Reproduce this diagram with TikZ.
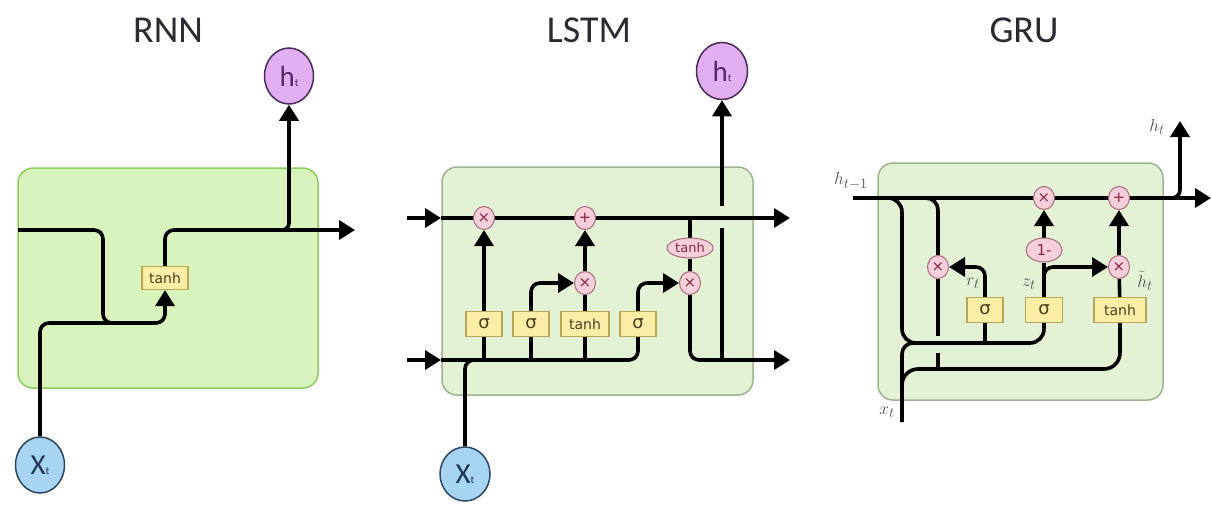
\documentclass[tikz,border=0pt]{standalone}
\usepackage{fontspec}
\setmainfont{Carlito}
\newfontfamily\dvs{DejaVu Sans}
\usetikzlibrary{arrows.meta,shapes.geometric}
\pgfdeclarelayer{bg}
\pgfdeclarelayer{wires}
\pgfsetlayers{bg,wires,main}
\definecolor{rnnfill}{HTML}{D8F4BC}
\definecolor{rnnedge}{HTML}{8CCB5E}
\definecolor{cellfill}{HTML}{E3F1D4}
\definecolor{celledge}{HTML}{9DB38F}
\definecolor{opfill}{HTML}{F6CFDA}
\definecolor{opedge}{HTML}{A86A7A}
\definecolor{optext}{HTML}{8A2545}
\definecolor{boxfill}{HTML}{FAEDA5}
\definecolor{boxedge}{HTML}{B9A657}
\definecolor{boxtext}{HTML}{4A4020}
\definecolor{xfill}{HTML}{A8D4F4}
\definecolor{xedge}{HTML}{2C4860}
\definecolor{xtext}{HTML}{1E3650}
\definecolor{hfill}{HTML}{E2AEF2}
\definecolor{hedge}{HTML}{4A2A58}
\definecolor{htext}{HTML}{5A2868}
\definecolor{titlecol}{HTML}{2A2A33}
\definecolor{labcol}{HTML}{505050}
\tikzset{
  wire/.style={line width=3.6pt, black, rounded corners=9pt},
  arr/.style={wire, -{Triangle[length=16pt,width=19pt]}},
  cell/.style={rounded corners=15pt, line width=1.5pt, fill=cellfill, draw=celledge},
  op/.style={ellipse, fill=opfill, draw=opedge, line width=1pt, minimum width=21pt,
    minimum height=23pt, inner sep=0pt, text=optext, font=\dvs\fontsize{15}{15}\selectfont},
  gatebox/.style={rectangle, fill=boxfill, draw=boxedge, line width=1.2pt,
    minimum height=25pt, inner sep=0pt, text=boxtext},
  sig/.style={gatebox, minimum width=36pt, font=\dvs\fontsize{18}{18}\selectfont},
  tanhbox/.style={gatebox, minimum width=48pt, font=\dvs\fontsize{14}{14}\selectfont},
  xnode/.style={ellipse, fill=xfill, draw=xedge, line width=1.5pt, minimum width=49pt,
    minimum height=56pt, inner sep=0pt, text=xtext},
  hnode/.style={ellipse, fill=hfill, draw=hedge, line width=1.5pt, minimum width=49pt,
    minimum height=56pt, inner sep=0pt, text=htext},
  title/.style={font=\fontsize{38}{40}\selectfont, text=titlecol, inner sep=0pt},
  lab/.style={text=labcol, font=\fontsize{19}{19}\selectfont, inner sep=0pt}
}
\newcommand{\bigsub}[2]{{\fontsize{29}{29}\selectfont #1}{\fontsize{11}{11}\selectfont #2}}
\begin{document}
\begin{tikzpicture}[x=1pt,y=-1pt]
\useasboundingbox (0,0) rectangle (1211,504);

% ================= RNN =================
\node[title] (tRNN) at (168,30) {RNN};
\node[tanhbox, minimum width=46pt, minimum height=23pt] (rT) at (165,278) {tanh};
\node[hnode] (rH) at (289,76) {\bigsub{h}{t}};
\node[xnode] (rX) at (40,465) {\bigsub{X}{t}};
\coordinate (rIn) at (18,230);
\coordinate (rJ) at (103,323);
\coordinate (rOut) at (355,230);
\coordinate (rB) at (268,230);

% ================= LSTM =================
\node[title] (tLSTM) at (589,30) {LSTM};
\node[op] (m1) at (484,218) {×};
\node[op] (a1) at (585,218) {+};
\node[op] (m2) at (585,283) {×};
\node[op] (m3) at (690,283) {×};
\node[op, minimum width=46pt, minimum height=20pt, font=\dvs\fontsize{13}{13}\selectfont] (th) at (690,248) {tanh};
\node[sig] (s1) at (484,324) {σ};
\node[sig] (s2) at (531,324) {σ};
\node[tanhbox] (tb) at (585,324) {tanh};
\node[sig] (s4) at (638,324) {σ};
\node[hnode, minimum width=51pt, minimum height=57pt] (lH) at (722,71) {\bigsub{h}{t}};
\node[xnode, minimum width=50pt, minimum height=54pt] (lX) at (465,474) {\bigsub{X}{t}};
\coordinate (cIn) at (407,218);
\coordinate (cA) at (441,218);
\coordinate (cOut) at (790,218);
\coordinate (hIn) at (407,360);
\coordinate (hA) at (441,360);
\coordinate (hOut) at (790,360);
\coordinate (lJ) at (495,360);
\coordinate (jT) at (690,218);
\coordinate (jB) at (722,360);
\coordinate (jG1) at (722,228);
\coordinate (jG2) at (722,206);

% ================= GRU =================
\node[title] (tGRU) at (1024,30) {GRU};
\node[op] (gm1) at (1044,198) {×};
\node[op] (ga) at (1119,198) {+};
\node[op] (gmr) at (938,267) {×};
\node[op] (gmh) at (1119,267) {×};
\node[op, minimum width=36pt, minimum height=24pt, font=\dvs\fontsize{15}{15}\selectfont] (one) at (1044,250) {1-};
\node[sig] (sr) at (985,310) {σ};
\node[sig, minimum width=37pt] (sz) at (1044,310) {σ};
\node[tanhbox, minimum width=52pt] (gt) at (1120,310) {tanh};
\node[lab] (lhm) at (851,181) {$h_{t-1}$};
\node[lab] (lht) at (1157,127) {$h_t$};
\node[lab] (lxt) at (887,412) {$x_t$};
\node[lab] (lrt) at (973,283) {$r_t$};
\node[lab] (lzt) at (1029,284) {$z_t$};
\node[lab] (lhtil) at (1145,281) {$\tilde{h}_t$};
\coordinate (gIn) at (853,198);
\coordinate (gOut) at (1211,198);
\coordinate (gB) at (1158,198);
\coordinate (gHt) at (1180,121);
\coordinate (gA) at (878,198);
\coordinate (gC) at (902,343);
\coordinate (gX) at (902,422);
\coordinate (gD) at (928,343);
\coordinate (gE) at (902,395);
\coordinate (gF) at (1000,369);
\coordinate (gG) at (922,198);
\coordinate (gH) at (938,336);
\coordinate (gI) at (938,353);

% ================= backgrounds =================
\begin{pgfonlayer}{bg}
\fill[white] (0,0) rectangle (1211,504);
\draw[cell, fill=rnnfill, draw=rnnedge] (18,168) rectangle (318,388);
\draw[cell] (442,167) rectangle (753,395);
\draw[cell] (878,163) rectangle (1163,400);
\end{pgfonlayer}

% ================= wires =================
\begin{pgfonlayer}{wires}
% RNN
\draw[wire] (rIn) -| (rJ) -- ++(20,0);
\draw[arr] (rX.north) |- (rJ) -| (rT);
\draw[arr] (rT) |- (rOut);
\draw[arr, rounded corners=7pt] (rB) -| (rH);
% LSTM
\draw[arr] (cIn) -- (cA);
\draw[arr] (cA) -- (cOut);
\draw[arr] (hIn) -- (hA);
\draw[wire] (hA) -| (s4);
\draw[wire] (s1.south) -- (s1.south |- hA);
\draw[wire] (s2.south) -- (s2.south |- hA);
\draw[wire] (tb.south) -- (tb.south |- hA);
\draw[wire] (lX.north) |- (lJ);
\draw[arr] (s1) -- (m1);
\draw[arr] (s2) |- (m2);
\draw[wire] (tb) -- (m2);
\draw[arr] (m2) -- (a1);
\draw[arr] (s4) |- (m3);
\draw[wire] (jT) -- (th);
\draw[wire] (th) -- (m3);
\draw[arr] (m3) |- (hOut);
\draw[wire] (jB) -- (jG1);
\draw[arr] (jG2) -- (lH);
% GRU
\draw[arr] (gIn) -- (gOut);
\draw[arr, rounded corners=8pt] (gB) -| (gHt);
\draw[wire, rounded corners=14pt] (gA) -| (gC) -| (sz);
\draw[wire] (sr.south) -- (sr.south |- gC);
\draw[wire, rounded corners=11pt] (gX) |- (gD);
\draw[wire, rounded corners=16pt] (gE) |- (gF) -| (gt);
\draw[wire, rounded corners=12pt] (gG) -| (gmr);
\draw[wire] (gmr) -- (gH);
\draw[wire] (gI) -- (gI |- gF);
\draw[arr] (sr) |- (gmr);
\draw[wire] (sz) -- (one);
\draw[arr] (one) -- (gm1);
\draw[arr] (sz) |- (gmh);
\draw[wire] (gt) -- (gmh);
\draw[arr] (gmh) -- (ga);
\end{pgfonlayer}
\end{tikzpicture}
\end{document}
